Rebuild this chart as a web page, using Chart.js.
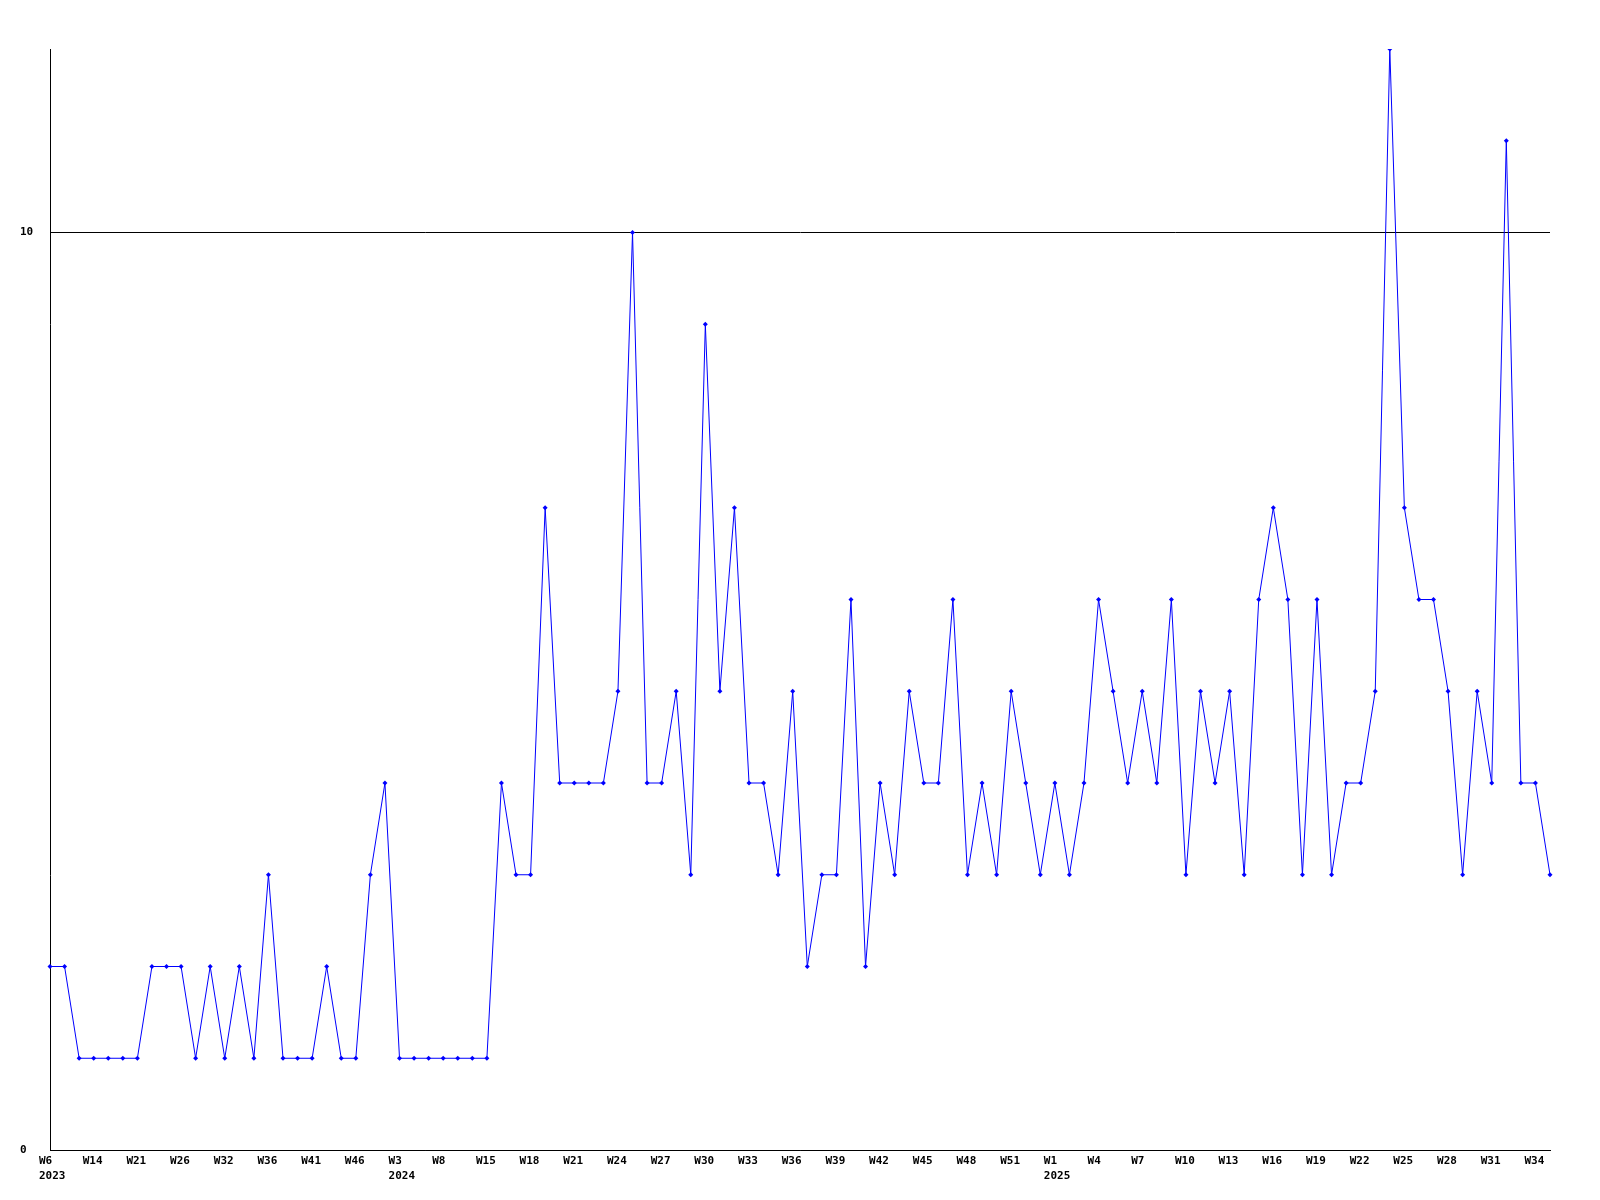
<!DOCTYPE html>
<html>
<head>
<meta charset="utf-8">
<script src="https://cdn.jsdelivr.net/npm/chart.js@4.4.1/dist/chart.umd.min.js"></script>
<style>
  body { margin: 0; background: #fff; }
  canvas { display: block; }
</style>
</head>
<body>
<canvas id="weekChart" width="1600" height="1200"></canvas>
<script>
// week labels per year (early 2023/2024 data is not weekly)
const weeks2023 = ['W6', 'W9', 'W11', 'W14', 'W16', 'W19', 'W21', 'W23', 'W24', 'W26', 'W28', 'W30',
  'W32', 'W33', 'W35', 'W36', 'W38', 'W40', 'W41', 'W43', 'W45', 'W46', 'W48', 'W51']
const weeks2024 = ['W3', 'W5', 'W6', 'W8', 'W10', 'W13', 'W15', 'W16', 'W17', 'W18', 'W19', 'W20',
  'W21', 'W22', 'W23', 'W24', 'W25', 'W26', 'W27', 'W28', 'W29', 'W30', 'W31', 'W32', 'W33', 'W34',
  'W35', 'W36', 'W37', 'W38', 'W39', 'W40', 'W41', 'W42', 'W43', 'W44', 'W45', 'W46', 'W47', 'W48',
  'W49', 'W50', 'W51', 'W52', 'W53']
const weeks2025 = ['W1', 'W2', 'W3', 'W4', 'W5', 'W6', 'W7', 'W8', 'W9', 'W10', 'W11', 'W12', 'W13',
  'W14', 'W15', 'W16', 'W17', 'W18', 'W19', 'W20', 'W21', 'W22', 'W23', 'W24', 'W25', 'W26', 'W27',
  'W28', 'W29', 'W30', 'W31', 'W32', 'W33', 'W34', 'W35']

const counts = [
  2, 2, 1, 1, 1, 1, 1, 2, 2, 2,
  1, 2, 1, 2, 1, 3, 1, 1, 1, 2,
  1, 1, 3, 4, 1, 1, 1, 1, 1, 1,
  1, 4, 3, 3, 7, 4, 4, 4, 4, 5,
  10, 4, 4, 5, 3, 9, 5, 7, 4, 4,
  3, 5, 2, 3, 3, 6, 2, 4, 3, 5,
  4, 4, 6, 3, 4, 3, 5, 4, 3, 4,
  3, 4, 6, 5, 4, 5, 4, 6, 3, 5,
  4, 5, 3, 6, 7, 6, 3, 6, 3, 4,
  4, 5, 12, 7, 6, 6, 5, 3, 5, 4,
  11, 4, 4, 3
]

const yTicks = [0, 10]

const categories = []
const years = []
weeks2023.forEach(w => { categories.push(w); years.push('2023') })
weeks2024.forEach(w => { categories.push(w); years.push('2024') })
weeks2025.forEach(w => { categories.push(w); years.push('2025') })

const font = { family: 'DejaVu Sans Mono', size: 11, weight: 'bold', lineHeight: 1.36 }

const ctx = document.getElementById('weekChart').getContext('2d')
const weekChart = new Chart(ctx, {
  type: 'line',
  data: {
    labels: categories,
    datasets: [{
      data: counts,
      borderColor: '#0000ff',
      backgroundColor: '#0000ff',
      borderWidth: 1,
      tension: 0,
      pointStyle: 'rectRot',
      pointRadius: 2.5,
      pointBorderWidth: 0,
      pointBackgroundColor: '#0000ff'
    }]
  },
  options: {
    responsive: false,
    animation: false,
    layout: { padding: { left: 20, right: 50, top: 49, bottom: 0 } },
    plugins: {
      legend: { display: false },
      tooltip: { enabled: false }
    },
    scales: {
      x: {
        offset: false,
        afterFit: (scale) => { scale.height = 50 },
        grid: { display: false, drawTicks: false },
        border: { display: true, color: '#000', width: 1 },
        ticks: {
          autoSkip: false,
          maxRotation: 0,
          minRotation: 0,
          align: 'start',
          labelOffset: -11,
          padding: 4,
          color: '#000',
          font: font,
          callback: function(value, i) {
            if (i % 3 !== 0) return ''
            // show the year under the first labelled week of each year
            if (i === 0 || years[i] !== years[i - 3]) return [categories[i], years[i]]
            return categories[i]
          }
        }
      },
      y: {
        min: 0,
        max: 12,
        afterFit: (scale) => { scale.width = 30 },
        afterBuildTicks: (scale) => { scale.ticks = yTicks.map(v => ({ value: v })) },
        grid: { color: '#000', lineWidth: 1, drawTicks: false },
        border: { display: true, color: '#000', width: 1 },
        ticks: {
          crossAlign: 'far',
          padding: 0,
          color: '#000',
          font: font
        }
      }
    }
  },
  plugins: [{
    id: 'whiteBg',
    beforeDraw: (chart) => {
      const c = chart.ctx
      c.save()
      c.fillStyle = '#fff'
      c.fillRect(0, 0, chart.width, chart.height)
      c.restore()
    }
  }]
})
</script>
</body>
</html>
